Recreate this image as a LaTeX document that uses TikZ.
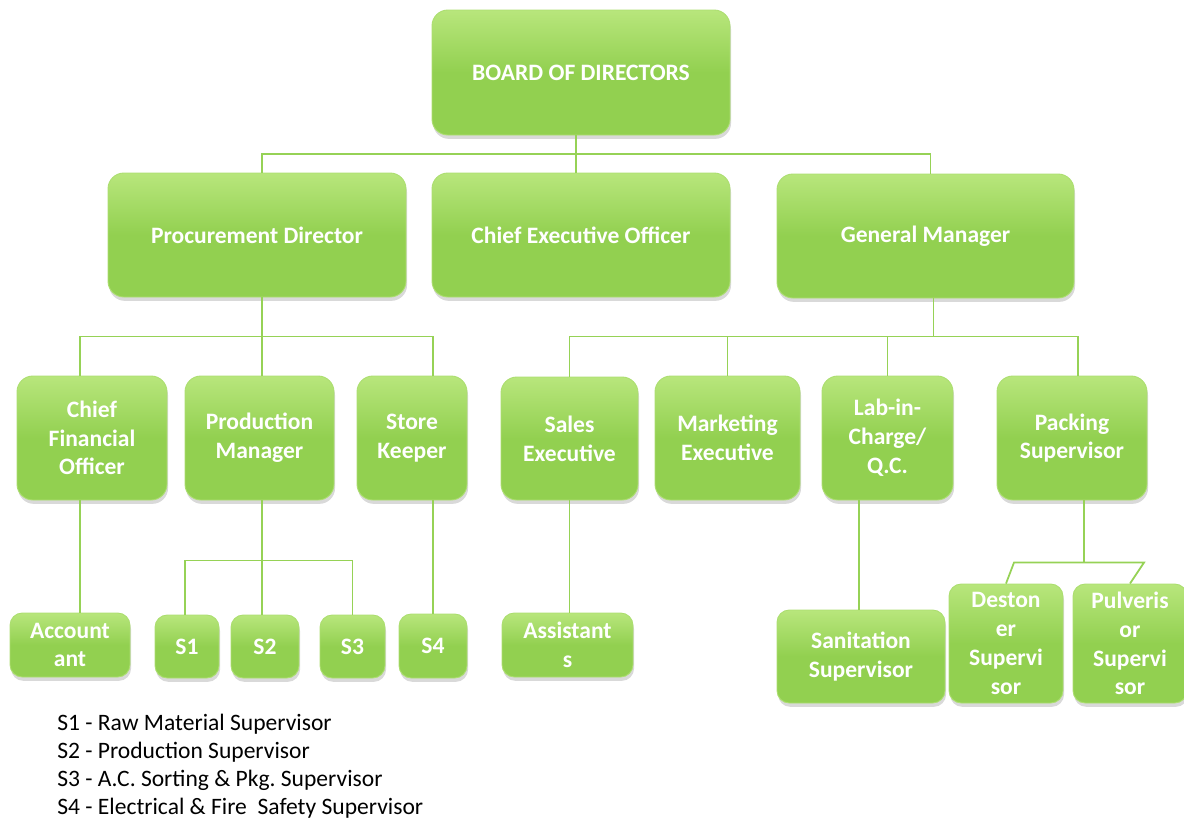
\documentclass[tikz,border=0pt]{standalone}
\usepackage{fontspec}
\setmainfont{Carlito}
\usetikzlibrary{shadows,calc}
\frenchspacing

\definecolor{leaf}{RGB}{146,208,80}
\definecolor{leaftop}{RGB}{184,230,124}
\definecolor{leafedge}{RGB}{172,222,112}
\definecolor{wirecol}{RGB}{150,210,86}

\tikzset{
  post/.style={draw=leafedge, line width=0.5pt, rounded corners=9pt,
    top color=leaftop, bottom color=leaf, middle color=leaf,
    drop shadow={shadow xshift=0.6pt, shadow yshift=-2.2pt, opacity=0.3},
    text=white, align=center, inner sep=0pt,
    font=\bfseries\fontsize{13.4}{16.4}\selectfont},
  small/.style={post, rounded corners=7pt},
  sz/.style 2 args={minimum width=#1*0.02cm, minimum height=#2*0.02cm},
  wire/.style={draw=wirecol, line width=1pt}
}

\begin{document}
\begin{tikzpicture}[x=0.02cm, y=-0.02cm]
\useasboundingbox (0,0) rectangle (1184,818);

\node[post, sz={298}{125}] (board) at (581,72.5) {BOARD OF DIRECTORS};

\node[post, sz={298}{124}] (pd)  at (257,235)   {Procurement Director};
\node[post, sz={298}{124}] (ceo) at (581,235)   {Chief Executive Officer};
\node[post, sz={297}{124}] (gm)  at (925.5,236) {General Manager};

\node[post, sz={150}{124}] (cfo) at (92,438)     {Chief\\Financial\\Officer};
\node[post, sz={149}{124}] (pm)  at (259.5,438)  {Production\\Manager};
\node[post, sz={110}{124}] (sk)  at (412,438)    {Store\\Keeper};
\node[post, sz={137}{123}] (se)  at (569.5,438.5){Sales\\Executive};
\node[post, sz={145}{124}] (me)  at (727.5,438)  {Marketing\\Executive};
\node[post, sz={131}{124}] (lab) at (887.5,438)  {Lab-in-\\Charge/\\Q.C.};
\node[post, sz={150}{124}] (ps)  at (1072,438)   {Packing\\Supervisor};

\node[small, sz={120}{64}]  (acc) at (70,645)     {Account\\ant};
\node[small, sz={64}{63}]   (s1)  at (187,646.5)  {S1};
\node[small, sz={68}{63}]   (s2)  at (265,646.5)  {S2};
\node[small, sz={65}{63}]   (s3)  at (352.5,646.5){S3};
\node[small, sz={68}{64}]   (s4)  at (433,646)    {S4};
\node[small, sz={131}{64}]  (ast) at (567.5,645)  {Assistant\\s};
\node[small, sz={168}{93}]  (san) at (861,656.5)  {Sanitation\\Supervisor};
\node[small, sz={114}{119}] (ds)  at (1006,643.5) {Deston\\er\\Supervi\\sor};
\node[small, sz={114}{119}] (pv)  at (1130,643.5) {Pulveris\\or\\Supervi\\sor};

\node[anchor=north west, align=left, inner sep=0pt,
  font=\fontsize{13.4}{15.9}\selectfont] (legend) at (57,714)
  {S1 - Raw Material Supervisor\\
   S2 - Production Supervisor\\
   S3 - A.C. Sorting \& Pkg. Supervisor\\
   S4 - Electrical \& Fire~ Safety Supervisor};

% top level
\draw[wire] ($(board.south)+(-5,0)$) coordinate (t) -- (t |- ceo.north);
\draw[wire] ($(pd.north)+(5,0)$) |- ($(board.south)!.5!(ceo.north)$) -| ($(gm.north)+(5,0)$);

% procurement side
\coordinate (pdbus) at ($(pd.south)!.5!(pd.south |- pm.north)$);
\draw[wire] ($(pd.south)+(5,0)$) coordinate (p) -- (p |- pm.north);
\draw[wire] ($(cfo.north)+(-12,0)$) |- (pdbus) -| ($(sk.north)+(21,0)$);

% general manager side
\draw[wire] ($(gm.south)+(8,0)$) -- ++(0,38) coordinate (gmbus);
\draw[wire] (se.north) |- (gmbus) -| ($(ps.north)+(6,0)$);
\draw[wire] (me.north) -- (me.north |- gmbus);
\draw[wire] (lab.north) -- (lab.north |- gmbus);

% bottom level
\draw[wire] ($(cfo.south)+(-12,0)$) coordinate (a) -- (a |- acc.north);
\draw[wire] ($(pm.south)+(2.5,0)$) coordinate (m) -- (m |- s2.north);
\path (m) ++(0,60) coordinate (pmbus);
\draw[wire] ($(s1.north)+(-2,0)$) |- (pmbus) -| (s3.north);
\draw[wire] (s4.north |- sk.south) -- (s4.north);
\draw[wire] (se.south) -- (se.south |- ast.north);
\draw[wire] ($(san.north)+(-2,0)$) coordinate (l) -- (l |- lab.south);
\draw[wire] ($(ps.south)+(12,0)$) -- ++(0,63) coordinate (pkbus);
\draw[wire] (ds.north) -- ($(ds.north)+(8,-21)$) -- ($(pv.north)+(14,-21)$) -- (pv.north);
\end{tikzpicture}
\end{document}
